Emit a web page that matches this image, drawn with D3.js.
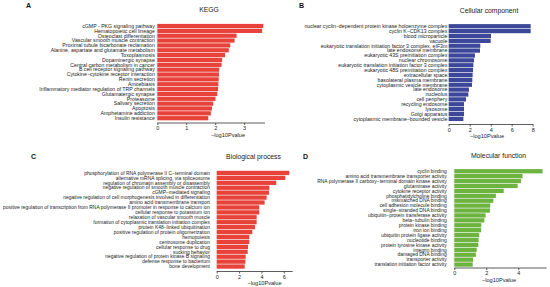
<!DOCTYPE html>
<html>
<head>
<meta charset="utf-8">
<style>
body { margin: 0; background: #fff; }
svg { display: block; font-family: Arial, "Liberation Sans", Helvetica, sans-serif; }
.term { fill: #222; }
.axis path, .axis line { stroke: #333; stroke-width: 0.8px; }
.axis text { fill: #222; font-size: 5.5px; }
.title { font-size: 6.8px; fill: #222; }
.letter { font-size: 7px; font-weight: bold; fill: #111; }
.xlab { font-size: 5.6px; fill: #222; }
</style>
</head>
<body>
<svg id="chart" width="550" height="287"></svg>
<script src="https://cdn.jsdelivr.net/npm/d3@7"></script>
<script>
// ---- data ----
var keggTerms = ["cGMP - PKG signaling pathway", "Hematopoietic cell lineage", "Osteoclast differentiation",
  "Vascular smooth muscle contraction", "Proximal tubule bicarbonate reclamation",
  "Alanine, aspartate and glutamate metabolism", "Toxoplasmosis", "Dopaminergic synapse",
  "Central carbon metabolism in cancer", "B cell receptor signaling pathway",
  "Cytokine\u2212cytokine receptor interaction", "Renin secretion", "Amoebiasis",
  "Inflammatory mediator regulation of TRP channels", "Glutamatergic synapse", "Proteasome",
  "Salivary secretion", "Apoptosis", "Amphetamine addiction", "Insulin resistance"];
var keggValues = [3.66, 3.62, 2.74, 2.67, 2.52, 2.47, 2.34, 2.24, 2.22, 2.14,
  2.13, 2.12, 2.11, 2.10, 2.07, 2.01, 1.93, 1.89, 1.85, 1.76];
var keggTicks = [0, 1, 2, 3];

var ccTerms = ["nuclear cyclin\u2212dependent protein kinase holoenzyme complex", "cyclin K\u2212CDK13 complex",
  "blood microparticle", "vacuole", "eukaryotic translation initiation factor 3 complex, eIF3m",
  "late endosome membrane", "eukaryotic 43S preinitiation complex", "nuclear chromosome",
  "eukaryotic translation initiation factor 3 complex", "eukaryotic 48S preinitiation complex",
  "extracellular space", "basolateral plasma membrane", "cytoplasmic vesicle membrane",
  "late endosome", "nucleolus", "cell periphery", "recycling endosome", "lysosome",
  "Golgi apparatus", "cytoplasmic membrane\u2212bounded vesicle"];
var ccValues = [7.81, 7.81, 4.03, 4.00, 3.01, 2.98, 2.50, 2.41, 2.35, 2.32,
  2.28, 2.25, 2.22, 1.93, 1.87, 1.65, 1.46, 1.46, 1.46, 1.40];
var ccTicks = [0, 2, 4, 6, 8];

var bpTerms = ["phosphorylation of RNA polymerase II C\u2212terminal domain",
  "alternative mRNA splicing, via spliceosome", "regulation of chromatin assembly or disassembly",
  "negative regulation of smooth muscle contraction", "cGMP\u2212mediated signaling",
  "negative regulation of cell morphogenesis involved in differentiation",
  "amino acid transmembrane transport",
  "positive regulation of transcription from RNA polymerase II promoter in response to calcium ion",
  "cellular response to potassium ion", "relaxation of vascular smooth muscle",
  "formation of cytoplasmic translation initiation complex", "protein K48\u2212linked ubiquitination",
  "positive regulation of protein oligomerization", "hemopoiesis", "centrosome duplication",
  "cellular response to drug", "sucking behavior", "negative regulation of protein kinase B signaling",
  "defense response to bacterium", "bone development"];
var bpValues = [6.48, 6.13, 5.32, 4.70, 4.67, 4.46, 4.28, 3.80, 3.80, 3.57,
  3.57, 3.42, 3.18, 2.91, 2.91, 2.80, 2.77, 2.59, 2.56, 2.50];
var bpTicks = [0, 2, 4, 6];

var mfTerms = ["cyclin binding", "amino acid transmembrane transporter activity",
  "RNA polymerase II carboxy\u2212terminal domain kinase activity", "glutaminase activity",
  "cytokine receptor activity", "phosphatidylcholine binding", "mismatched DNA binding",
  "cell adhesion molecule binding", "single\u2212stranded DNA binding",
  "ubiquitin\u2212protein transferase activity", "beta\u2212tubulin binding", "protein kinase binding",
  "iron ion binding", "ubiquitin protein ligase activity", "nucleotide binding",
  "protein tyrosine kinase activity", "integrin binding", "damaged DNA binding",
  "transporter activity", "translation initiation factor activity"];
var mfValues = [5.52, 4.27, 4.17, 3.96, 3.09, 2.60, 2.44, 2.25, 2.23, 1.96,
  1.88, 1.69, 1.67, 1.56, 1.52, 1.50, 1.40, 1.35, 1.17, 1.15];
var mfTicks = [0, 2, 4];

// ---- layout for the four panels ----
// labL / labR: where the widest term label starts and where all labels end
var panels = [
  { letter: "A", lx: 26, ly: 8, title: "KEGG", tx: 209, ty: 12,
    terms: keggTerms, values: keggValues, ticks: keggTicks, color: "#e8433a",
    x0: 157.3, x1: 265, max: 3.72, y0: 23.9, y1: 120.3, axisY: 123, labL: 39, labR: 154.8, xlabX: 228 },
  { letter: "B", lx: 299, ly: 8, title: "Cellular component", tx: 489, ty: 12.5,
    terms: ccTerms, values: ccValues, ticks: ccTicks, color: "#3d4799",
    x0: 448.7, x1: 533.2, max: 8.05, y0: 24.1, y1: 121, axisY: 124.5, labL: 304.3, labR: 447.3, xlabX: 487 },
  { letter: "C", lx: 31, ly: 158.5, title: "Biological process", tx: 253.5, ty: 158.5,
    terms: bpTerms, values: bpValues, ticks: bpTicks, color: "#e8433a",
    x0: 216.7, x1: 292.7, max: 6.79, y0: 170.8, y1: 268.7, axisY: 271.5, labL: 2.7, labR: 210, xlabX: 264.5 },
  { letter: "D", lx: 303, ly: 158.5, title: "Molecular function", tx: 498.5, ty: 157.5,
    terms: mfTerms, values: mfValues, ticks: mfTicks, color: "#6db33f",
    x0: 454.3, x1: 546.7, max: 5.78, y0: 169.1, y1: 266.7, axisY: 268, labL: 316.7, labR: 446.7, xlabX: 499 }
];

var svg = d3.select("#chart");

panels.forEach(function(p) {
  var g = svg.append("g");

  var x = d3.scaleLinear().domain([0, p.max]).range([p.x0, p.x1]);
  var y = d3.scaleBand().domain(p.terms).range([p.y0, p.y1]).paddingInner(0.13);

  // faint baseline at zero
  g.append("line")
    .attr("x1", x(0) - 0.6).attr("x2", x(0) - 0.6)
    .attr("y1", p.y0).attr("y2", p.y1)
    .attr("stroke", "#e4e4e4").attr("stroke-width", 0.6);

  // bars
  g.selectAll("rect")
    .data(p.values)
    .enter().append("rect")
      .attr("x", x(0))
      .attr("y", function(d, i) { return y(p.terms[i]); })
      .attr("width", function(d) { return x(d) - x(0); })
      .attr("height", y.bandwidth())
      .attr("fill", p.color);

  // term labels, sized so the widest one spans labL..labR
  var labels = g.selectAll("text.term")
    .data(p.terms)
    .enter().append("text")
      .attr("class", "term")
      .attr("x", p.labR)
      .attr("y", function(d) { return y(d) + y.bandwidth() / 2; })
      .attr("dy", "0.35em")
      .attr("text-anchor", "end")
      .style("font-size", "5px")
      .text(function(d) { return d; });
  var widest = d3.max(labels.nodes(), function(n) { return n.getComputedTextLength(); });
  labels.style("font-size", (5 * (p.labR - p.labL) / widest) + "px");

  // x axis
  var axis = g.append("g")
    .attr("class", "axis")
    .attr("transform", "translate(0," + p.axisY + ")")
    .call(d3.axisBottom(x).tickValues(p.ticks).tickSizeOuter(0).tickSize(2).tickPadding(1.5)
      .tickFormat(d3.format("d")));
  axis.select(".domain").attr("d", "M" + p.x0 + ",0H" + p.x1);

  g.append("text")
    .attr("class", "xlab")
    .attr("x", p.xlabX)
    .attr("y", p.axisY + 13.5)
    .attr("text-anchor", "middle")
    .text("\u2212log10Pvalue");

  g.append("text")
    .attr("class", "title")
    .attr("x", p.tx)
    .attr("y", p.ty)
    .attr("text-anchor", "middle")
    .text(p.title);

  g.append("text")
    .attr("class", "letter")
    .attr("x", p.lx)
    .attr("y", p.ly)
    .text(p.letter);
});
</script>
</body>
</html>
